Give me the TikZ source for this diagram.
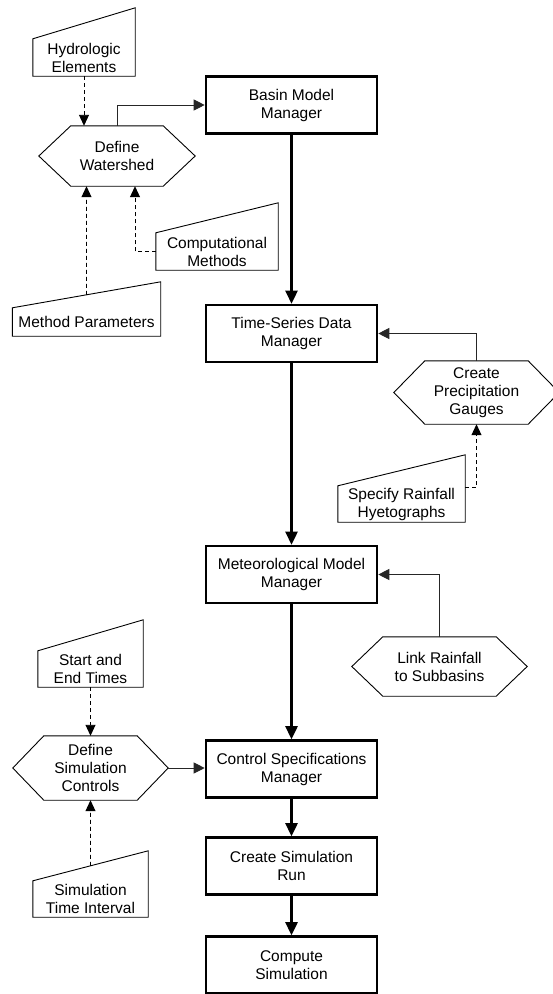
\documentclass[tikz,border=0pt]{standalone}
\usepackage{fontspec}
\setmainfont{Liberation Sans}
\usetikzlibrary{arrows.meta,calc}
\newcommand\drawhex[2]{%
  \draw[thinline] (#1.west) -- ($(#1.north west)+(#2,0)$) -- ($(#1.north east)+(-#2,0)$) -- (#1.east)
    -- ($(#1.south east)+(-#2,0)$) -- ($(#1.south west)+(#2,0)$) -- cycle;}
\newcommand\drawmin[2]{%
  \draw[thinline] (#1.south west) -- (#1.south east) -- ($(#1.north east)+(0,-#2)$) coordinate (#1-tr)
    -- (#1.north west) -- cycle;}
\begin{document}
\begin{tikzpicture}[x=1pt,y=-1pt,
  every node/.style={font=\fontsize{15.5}{18}\selectfont, align=center, inner sep=0pt},
  mgr/.style={draw, line width=2.6pt, minimum width=171pt, minimum height=57pt},
  thinline/.style={line width=0.9pt, line join=miter},
  thickarrow/.style={line width=2.6pt, -{Triangle[length=13pt,width=12pt]}},
  thinarrow/.style={line width=0.9pt, black!85, -{Triangle[length=11pt,width=11pt]}},
  dashedarrow/.style={line width=0.9pt, dash pattern=on 4pt off 3pt, -{Triangle[length=11pt,width=10pt]}}
]
\useasboundingbox (0,0) rectangle (553,994);

% manager boxes
\node[mgr] (basin) at (291.5,105) {Basin Model\\Manager};
\node[mgr] (ts)    at (291.5,333.5) {Time-Series Data\\Manager};
\node[mgr] (met)   at (291.5,574.5) {Meteorological Model\\Manager};
\node[mgr] (ctrl)  at (291.5,769) {Control Specifications\\Manager};
\node[mgr] (run)   at (291.5,866) {Create Simulation\\Run};
\node[mgr] (comp)  at (291.5,965) {Compute\\Simulation};

% hexagons
\node[minimum width=156pt, minimum height=60pt] (dw)  at (117,156)     {Define\\Watershed};
\node[minimum width=165pt, minimum height=63pt] (cpg) at (476.5,392.5) {Create\\Precipitation\\Gauges};
\node[minimum width=175pt, minimum height=59pt] (lrs) at (439.5,666.5) {Link Rainfall\\to Subbasins};
\node[minimum width=155pt, minimum height=64pt] (dsc) at (90.5,768)    {Define\\Simulation\\Controls};
\drawhex{dw}{32}
\drawhex{cpg}{31}
\drawhex{lrs}{31}
\drawhex{dsc}{31}

% manual inputs
\node[minimum width=102pt, minimum height=37pt] (he)  at (84,57.5)    {Hydrologic\\Elements};
\node[minimum width=122pt, minimum height=37pt] (cm)  at (217,251.5)  {Computational\\Methods};
\node[minimum width=148pt, minimum height=28pt] (mp)  at (86.5,322)   {Method Parameters};
\node[minimum width=127pt, minimum height=36pt] (srh) at (401.5,504)  {Specify Rainfall\\Hyetographs};
\node[minimum width=105pt, minimum height=36pt] (set) at (90.5,669)   {Start and\\End Times};
\node[minimum width=115pt, minimum height=36pt] (sti) at (90.5,899)   {Simulation\\Time Interval};
\drawmin{he}{31}
\drawmin{cm}{30}
\drawmin{mp}{26}
\drawmin{srh}{31}
\drawmin{set}{31}
\drawmin{sti}{30}

% main flow
\draw[thickarrow] (basin.south) -- (ts.north);
\draw[thickarrow] (ts.south) -- (met.north);
\draw[thickarrow] (met.south) -- (ctrl.north);
\draw[thickarrow] (ctrl.south) -- (run.north);
\draw[thickarrow] (run.south) -- (comp.north);

% side connectors
\draw[dashedarrow] (he.south) -- (he.south |- dw.north);
\draw[thinarrow] (dw.north) |- (basin.west);
\draw[dashedarrow] (cm.west) -| ($(dw.south)+(18,0)$);
\draw[dashedarrow] ($(mp.north west)!0.5!(mp-tr)$) -- ($(dw.south)+(-30.5,0)$);
\draw[thinarrow] (cpg.north) |- (ts.east);
\draw[dashedarrow] ($(srh.north east)+(0,2)$) -| (cpg.south);
\draw[thinarrow] (lrs.north) |- (met.east);
\draw[dashedarrow] (set.south) -- (dsc.north);
\draw[thinarrow] (dsc.east) -- (dsc.east -| ctrl.west);
\draw[dashedarrow] ($(sti.north west)!0.5!(sti-tr)$) -- (dsc.south);
\end{tikzpicture}
\end{document}
